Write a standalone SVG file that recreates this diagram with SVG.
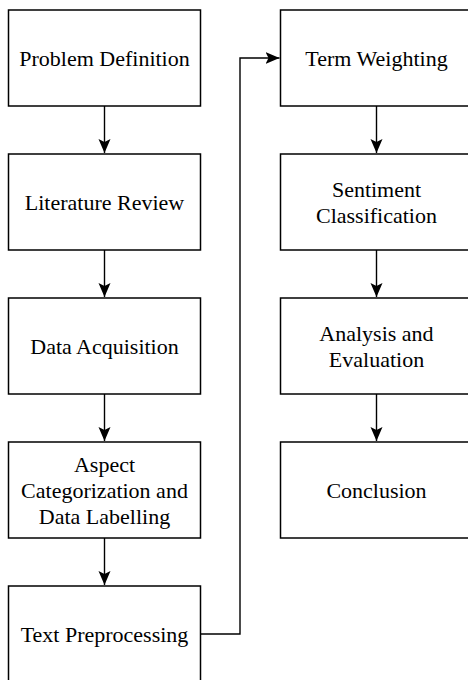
<svg xmlns="http://www.w3.org/2000/svg" width="468" height="680" viewBox="0 0 468 680">
<style>
.box{fill:#fff;stroke:#000;stroke-width:1.5}
.lbl{font-family:"Liberation Serif","Times New Roman",serif;font-size:22px;fill:#000;text-anchor:middle}
.con{fill:none;stroke:#000;stroke-width:1.4}
</style>
<defs>
<marker id="ah" markerUnits="userSpaceOnUse" markerWidth="14" markerHeight="14" viewBox="0 0 14 14" refX="14" refY="7" orient="auto">
<path d="M0,1 L14,7 L0,13 L3,7 Z" fill="#000"/>
</marker>
</defs>
<rect width="468" height="680" fill="#fff"/>
<g id="n1"><rect class="box" x="8.5" y="10" width="192" height="96"/><text class="lbl" x="104.5" y="65.5">Problem Definition</text></g>
<g id="n2"><rect class="box" x="8.5" y="154" width="192" height="96"/><text class="lbl" x="104.5" y="209.5">Literature Review</text></g>
<g id="n3"><rect class="box" x="8.5" y="298" width="192" height="96"/><text class="lbl" x="104.5" y="353.5">Data Acquisition</text></g>
<g id="n4"><rect class="box" x="8.5" y="442" width="192" height="96"/><text class="lbl" x="104.5" y="471.5">Aspect</text><text class="lbl" x="104.5" y="497.5">Categorization and</text><text class="lbl" x="104.5" y="523.5">Data Labelling</text></g>
<g id="n5"><rect class="box" x="8.5" y="586" width="192" height="96"/><text class="lbl" x="104.5" y="641.5">Text Preprocessing</text></g>
<g id="n6"><rect class="box" x="280.5" y="10" width="192" height="96"/><text class="lbl" x="376.5" y="65.5">Term Weighting</text></g>
<g id="n7"><rect class="box" x="280.5" y="154" width="192" height="96"/><text class="lbl" x="376.5" y="196.5">Sentiment</text><text class="lbl" x="376.5" y="222.5">Classification</text></g>
<g id="n8"><rect class="box" x="280.5" y="298" width="192" height="96"/><text class="lbl" x="376.5" y="340.5">Analysis and</text><text class="lbl" x="376.5" y="366.5">Evaluation</text></g>
<g id="n9"><rect class="box" x="280.5" y="442" width="192" height="96"/><text class="lbl" x="376.5" y="497.5">Conclusion</text></g>
<g id="connectors">
<path class="con" d="M104.5,106 V153" marker-end="url(#ah)"/>
<path class="con" d="M104.5,250 V297" marker-end="url(#ah)"/>
<path class="con" d="M104.5,394 V441" marker-end="url(#ah)"/>
<path class="con" d="M104.5,538 V585" marker-end="url(#ah)"/>
<path class="con" d="M200.5,634 H240 V58 H279.5" marker-end="url(#ah)"/>
<path class="con" d="M376.5,106 V153" marker-end="url(#ah)"/>
<path class="con" d="M376.5,250 V297" marker-end="url(#ah)"/>
<path class="con" d="M376.5,394 V441" marker-end="url(#ah)"/>
</g>
</svg>
